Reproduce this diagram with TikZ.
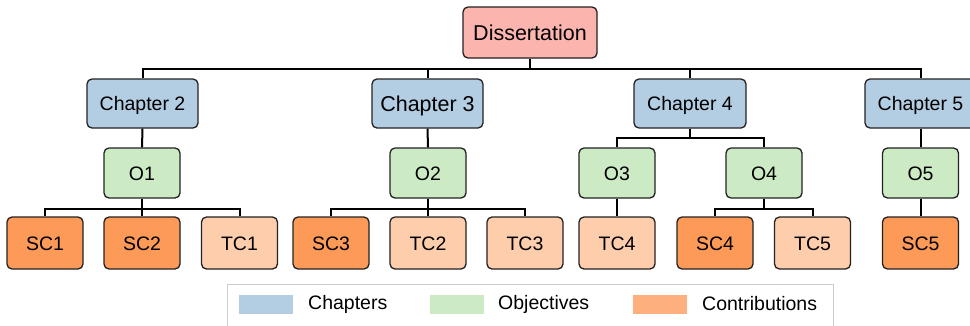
\documentclass[tikz,border=0pt]{standalone}
\usepackage{fontspec}
\setmainfont{Liberation Sans}
\definecolor{dissfill}{HTML}{FBB4AE}
\definecolor{chapfill}{HTML}{B3CDE3}
\definecolor{objfill}{HTML}{CCEBC5}
\definecolor{scfill}{HTML}{FD9A57}
\definecolor{tcfill}{HTML}{FDCDAC}
\definecolor{contribkey}{HTML}{FDAF7D}
\definecolor{edge}{HTML}{222222}
\begin{document}
\begin{tikzpicture}[x=1pt,y=-1pt,
  box/.style={draw=edge,line width=1.3pt,rounded corners=5pt,inner sep=0pt,
    text height=14pt,text depth=0pt,font=\fontsize{19.5}{22}\selectfont},
  bigtext/.style={font=\fontsize{21.5}{24}\selectfont,text height=15.5pt},
  disbox/.style={box,bigtext,fill=dissfill,minimum width=134pt,minimum height=51pt},
  chapbox/.style={box,fill=chapfill,minimum width=111pt,minimum height=49pt},
  objbox/.style={box,fill=objfill,minimum width=76pt,minimum height=50pt},
  scbox/.style={box,fill=scfill,minimum width=76pt,minimum height=52pt},
  tcbox/.style={box,fill=tcfill,minimum width=76pt,minimum height=52pt},
  link/.style={draw=black,line width=2pt},
  keyswatch/.style={minimum width=54pt,minimum height=19pt,inner sep=0pt},
  keytext/.style={anchor=west,inner sep=0pt,font=\fontsize{19.5}{22}\selectfont}]
\clip (0,0) rectangle (970,325);
\fill[white] (0,0) rectangle (970,325);

% root and chapters
\node[disbox] (diss) at (530,32.5) {Dissertation};
\node[chapbox] (ch2) at (142.5,103.5) {Chapter 2};
\node[chapbox,bigtext] (ch3) at (427.5,103.5) {Chapter 3};
\node[chapbox,minimum width=112pt] (ch4) at (690,103.5) {Chapter 4};
\node[chapbox] (ch5) at (920.5,103.5) {Chapter 5};

% objectives
\node[objbox] (o1) at (142,173) {O1};
\node[objbox] (o2) at (428,173) {O2};
\node[objbox] (o3) at (617,173) {O3};
\node[objbox] (o4) at (764,173) {O4};
\node[objbox] (o5) at (920.5,173) {O5};

% contributions
\node[scbox] (sc1) at (45,243) {SC1};
\node[scbox] (sc2) at (142,243) {SC2};
\node[tcbox] (tc1) at (239.5,243) {TC1};
\node[scbox] (sc3) at (331,243) {SC3};
\node[tcbox] (tc2) at (428,243) {TC2};
\node[tcbox] (tc3) at (525,243) {TC3};
\node[tcbox] (tc4) at (617,243) {TC4};
\node[scbox] (sc4) at (715,243) {SC4};
\node[tcbox] (tc5) at (812.5,243) {TC5};
\node[scbox] (sc5) at (920.5,243) {SC5};

% tree connectors
\foreach \c in {ch2,ch3,ch4,ch5}
  \draw[link] (diss.south) -- ++(0,10) -| (\c.north);
\draw[link] (ch2.south) -- (o1.north);
\draw[link] (ch3.south) -- (o2.north);
\foreach \c in {o3,o4}
  \draw[link] (ch4.south) -- ++(0,9) -| (\c.north);
\draw[link] (ch5.south) -- (o5.north);
\foreach \c in {sc1,sc2,tc1}
  \draw[link] (o1.south) -- ++(0,10) -| (\c.north);
\foreach \c in {sc3,tc2,tc3}
  \draw[link] (o2.south) -- ++(0,10) -| (\c.north);
\draw[link] (o3.south) -- (tc4.north);
\foreach \c in {sc4,tc5}
  \draw[link] (o4.south) -- ++(0,10) -| (\c.north);
\draw[link] (o5.south) -- (sc5.north);

% key
\draw[draw=black!20,line width=1pt,fill=white] (227,284) rectangle (833,340);
\node[keyswatch,fill=chapfill] (kc) at (266,304.5) {};
\node[keytext] (kct) at (308,304) {Chapters};
\node[keyswatch,fill=objfill] (ko) at (457,304.5) {};
\node[keytext] (kot) at (498,304) {Objectives};
\node[keyswatch,fill=contribkey] (kx) at (660,304.5) {};
\node[keytext] (kxt) at (702,304) {Contributions};
\end{tikzpicture}
\end{document}
